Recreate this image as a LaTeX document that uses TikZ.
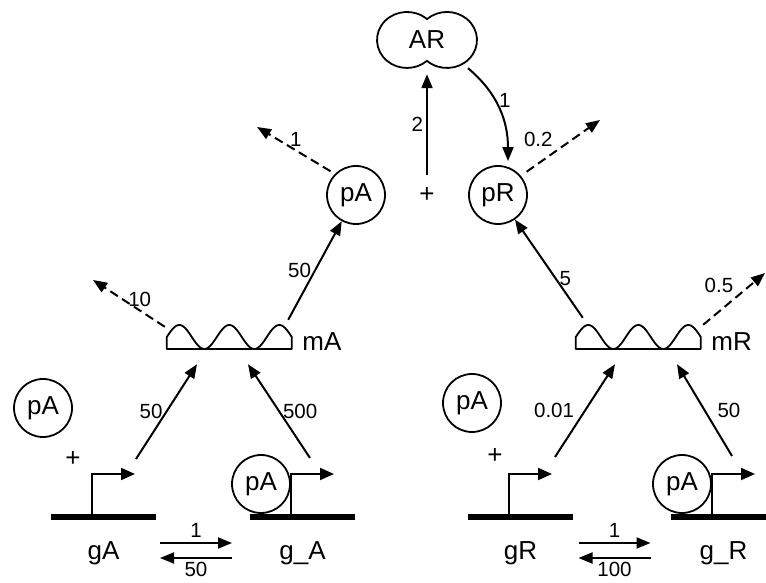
\documentclass[tikz,border=0pt]{standalone}
\usepackage{fontspec}
\setmainfont{Liberation Sans}
\usetikzlibrary{arrows.meta,positioning}

\begin{document}
\begin{tikzpicture}[x=1pt, y=1pt,
  mol/.style={draw, circle, line width=1.8pt, minimum size=58pt, inner sep=0pt, font=\fontsize{26}{30}\selectfont},
  spc/.style={font=\fontsize{26}{30}\selectfont, inner sep=0pt},
  lbl/.style={font=\fontsize{20.5}{24}\selectfont, inner sep=3pt},
  arr/.style={-{Triangle[length=14pt,width=11pt]}, line width=2pt},
  decay/.style={arr, dash pattern=on 9pt off 5pt},
  gene/.style={fill=black, minimum width=105pt, minimum height=5.5pt, inner sep=0pt},
  prom/.style={-{Triangle[length=14pt,width=12pt]}, line width=2pt},
  mrna/.style={minimum width=125pt, minimum height=24pt, inner sep=0pt},
  dimer/.style={minimum width=100pt, minimum height=56pt, inner sep=0pt, font=\fontsize{26}{30}\selectfont}]
\useasboundingbox (0,0) rectangle (766,583);

% dimer
\node[dimer] (AR) at (427,543) {AR};
\draw[line width=1.8pt] ([yshift=20.9pt]AR.center)
  arc[start angle=48.2, end angle=311.8, x radius=30pt, y radius=28pt]
  arc[start angle=-131.8, end angle=131.8, x radius=30pt, y radius=28pt] -- cycle;

% proteins and dimerisation
\node[mol] (pA) at (356,388) {pA};
\node[mol] (pR) at (498,388) {pR};
\node[spc] (plus) at (427,388) {+};
\draw[arr] ([yshift=20pt]plus.center) -- node[lbl, left] (kAR) {2} ([yshift=-6pt]AR.south);
\draw[arr] ([xshift=41pt]AR.south) to[out=-40, in=90] node[lbl, right, pos=0.4] (kbind) {1} ([xshift=10pt,yshift=4pt]pR.north);

% protein decay
\coordinate (pA-deg) at (257,456);
\coordinate (pR-deg) at (600,463);
\draw[decay, shorten <=5pt] (pA.135) -- node[lbl, above] (kdA) {1} (pA-deg);
\draw[decay, shorten <=7pt] (pR.40) -- node[lbl, above left, pos=0.45] (kdR) {0.2} (pR-deg);

% mRNAs
\node[mrna] (mA) at (229.5,246) {};
\node[mrna] (mR) at (638.5,246) {};
\foreach \m in {mA,mR}{
  \begin{scope}[shift={(\m.west)}]
    \draw[line width=1.8pt, line join=round] (0,-12) -- (0,0) -- plot[domain=0:125, samples=126] (\x,{12*sin(7.2*\x)}) -- (125,-12) -- cycle;
  \end{scope}
}
\node[spc, anchor=west] (mA-name) at ([xshift=10pt,yshift=-5pt]mA.east) {mA};
\node[spc, anchor=west] (mR-name) at ([xshift=10pt,yshift=-5pt]mR.east) {mR};

% translation
\draw[arr] ([shift={(-4pt,5pt)}]mA.north east) -- node[lbl, left] (ktA) {50} (pA);
\draw[arr] ([shift={(7pt,7pt)}]mR.north west) -- node[lbl, right, pos=0.4] (ktR) {5} (pR);

% mRNA decay
\coordinate (mA-deg) at (93,303);
\coordinate (mR-deg) at (765,310);
\draw[decay] ([shift={(-2pt,-2pt)}]mA.north west) -- node[lbl, above, pos=0.35] (kmA) {10} (mA-deg);
\draw[decay] ([xshift=2pt]mR.north east) -- node[lbl, above left, pos=0.55] (kmR) {0.5} (mR-deg);

% genes, free and bound
\node[gene] (gA) at (103.5,66) {};
\node[gene] (gAbnd) at (302.5,66) {};
\node[gene] (gR) at (520.5,66) {};
\node[gene] (gRbnd) at (723.5,66) {};
\foreach \g/\t in {gA/gA, gAbnd/g\_A, gR/gR, gRbnd/g\_R}{
  \draw[prom] ([xshift=-11.5pt,yshift=2.5pt]\g.center) -- ++(0,40.5) -- ++(43,0);
  \node[spc, anchor=base] (\g-name) at ([yshift=-43pt]\g.center) {\t};
}

\node[mol] (pAfree) at (43,175) {pA};
\node[spc] (plusA) at (73,124) {+};
\node[mol] (pAfree2) at (472,180) {pA};
\node[spc] (plusR) at (495,127) {+};
\node[mol] (pAon) at (261,99) {pA};
\node[mol] (pAon2) at (682,99) {pA};

% transcription
\draw[arr] ([shift={(32.5pt,58pt)}]gA.center) -- node[lbl, left] (ktxA) {50} ([shift={(-32.5pt,-15pt)}]mA.south);
\draw[arr] ([shift={(7.5pt,59pt)}]gAbnd.center) -- node[lbl, right] (ktxAb) {500} ([shift={(18.5pt,-15pt)}]mA.south);
\draw[arr] ([shift={(34.5pt,60pt)}]gR.center) -- node[lbl, left=7pt] (ktxR) {0.01} ([shift={(-23.5pt,-15pt)}]mR.south);
\draw[arr] ([shift={(8.5pt,61pt)}]gRbnd.center) -- node[lbl, right=9pt] (ktxRb) {50} ([shift={(38.5pt,-15pt)}]mR.south);

% binding of pA to the promoters
\coordinate (swA) at (196,32);
\coordinate (swR) at (614.5,32);
\foreach \s/\kon/\koff in {swA/1/50, swR/1/100}{
  \draw[arr] ([shift={(-36pt,8pt)}]\s) -- node[lbl, above=1pt] (\s-on) {\kon} ([shift={(36pt,8pt)}]\s);
  \draw[arr] ([shift={(36pt,-7pt)}]\s) -- node[lbl, below=0pt] (\s-off) {\koff} ([shift={(-36pt,-7pt)}]\s);
}
\end{tikzpicture}
\end{document}
